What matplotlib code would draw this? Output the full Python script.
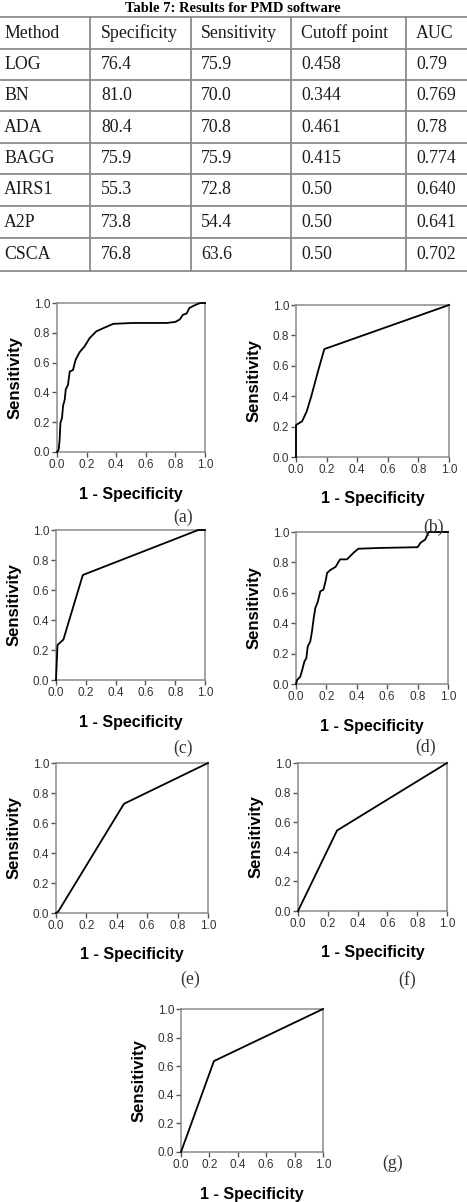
import matplotlib.pyplot as plt
from matplotlib.lines import Line2D

# ----- table data -----
methods = ['LOG', 'BN', 'ADA', 'BAGG', 'AIRS1', 'A2P', 'CSCA']
specificity = [76.4, 81.0, 80.4, 75.9, 55.3, 73.8, 76.8]
sensitivity = [75.9, 70.0, 70.8, 75.9, 72.8, 54.4, 63.6]
cutoff = ['0.458', '0.344', '0.461', '0.415', '0.50', '0.50', '0.50']
auc = ['0.79', '0.769', '0.78', '0.774', '0.640', '0.641', '0.702']
headers = ['Method', 'Specificity', 'Sensitivity', 'Cutoff point', 'AUC']

# ----- ROC curves (1 - specificity, sensitivity) -----
fpr_a = [0, 0.011, 0.018, 0.023, 0.034, 0.041, 0.052, 0.059, 0.074, 0.086, 0.108,
         0.126, 0.153, 0.187, 0.221, 0.266, 0.31, 0.38, 0.51, 0.74, 0.80, 0.83,
         0.85, 0.876, 0.894, 0.92, 0.966, 1.0]
tpr_a = [0, 0.016, 0.083, 0.195, 0.23, 0.31, 0.35, 0.42, 0.45, 0.54, 0.55,
         0.62, 0.67, 0.71, 0.765, 0.81, 0.83, 0.86, 0.866, 0.866, 0.873, 0.89,
         0.92, 0.93, 0.966, 0.98, 1.0, 1.0]
fpr_b = [0, 0, 0.04, 0.07, 0.10, 0.14, 0.185, 1.0]
tpr_b = [0, 0.21, 0.235, 0.30, 0.40, 0.55, 0.71, 1.0]
fpr_c = [0, 0.01, 0.05, 0.083, 0.18, 0.955, 1.0]
tpr_c = [0, 0.233, 0.27, 0.38, 0.70, 1.0, 1.0]
fpr_d = [0, 0.007, 0.028, 0.04, 0.055, 0.068, 0.077, 0.094, 0.105, 0.116, 0.127,
         0.143, 0.16, 0.18, 0.197, 0.204, 0.226, 0.26, 0.29, 0.335, 0.375, 0.41,
         0.55, 0.80, 0.82, 0.85, 0.873, 1.0]
tpr_d = [0, 0.026, 0.048, 0.09, 0.147, 0.17, 0.246, 0.28, 0.345, 0.43, 0.5,
         0.54, 0.61, 0.62, 0.686, 0.73, 0.75, 0.77, 0.82, 0.82, 0.86, 0.89,
         0.895, 0.90, 0.93, 0.95, 1.0, 1.0]
fpr_e = [0, 0.015, 0.447, 1.0]
tpr_e = [0, 0.01, 0.728, 1.0]
fpr_f = [0, 0.262, 1.0]
tpr_f = [0, 0.544, 1.0]
fpr_g = [0, 0.232, 1.0]
tpr_g = [0, 0.636, 1.0]

W, H = 467, 1202
fig = plt.figure(figsize=(W / 100, H / 100), dpi=100)

serif = ['Liberation Serif', 'DejaVu Serif']
sans = ['Liberation Sans', 'DejaVu Sans']
grid_col = '#8a8a8a'


def fx(px):
    return px / W


def fy(py):
    return 1 - py / H


# ----- table -----
fig.text(fx(233), fy(12), 'Table 7: Results for PMD software', ha='center',
         va='baseline', fontsize=10.5, fontweight='bold', family=serif)

row_lines = [17, 49, 80, 111, 143, 174, 206, 238, 271]
col_lines = [90, 191, 291, 406]
col_text = [4, 101, 201, 301, 416]

for y in row_lines:
    fig.add_artist(Line2D([0, 1], [fy(y), fy(y)], color=grid_col, lw=1.3))
for x in col_lines:
    fig.add_artist(Line2D([fx(x), fx(x)], [fy(row_lines[0]), fy(row_lines[-1])],
                          color=grid_col, lw=1.3))

rows = [headers] + [[m, '%.1f' % s, '%.1f' % n, c, a]
                    for m, s, n, c, a in zip(methods, specificity, sensitivity, cutoff, auc)]
for i, row in enumerate(rows):
    yc = (row_lines[i] + row_lines[i + 1]) / 2
    for x, txt in zip(col_text, row):
        fig.text(fx(x), fy(yc), txt, ha='left', va='center', fontsize=12.8,
                 family=serif, color='#1a1a1a')

# ----- ROC panels -----
# (left, right, top, bottom) in pixels, caption position
panels = [
    ((57, 205, 303, 452), fpr_a, tpr_a, '(a)', (183, 517)),
    ((296, 449, 305, 457), fpr_b, tpr_b, '(b)', (433, 527)),
    ((56, 205, 530, 680), fpr_c, tpr_c, '(c)', (183, 748)),
    ((296, 448, 532, 684), fpr_d, tpr_d, '(d)', (426, 747)),
    ((56, 208, 763, 913), fpr_e, tpr_e, '(e)', (190, 979)),
    ((298, 447, 763, 911), fpr_f, tpr_f, '(f)', (407, 980)),
    ((181, 323, 1009, 1152), fpr_g, tpr_g, '(g)', (393, 1163)),
]

ticks = [0.0, 0.2, 0.4, 0.6, 0.8, 1.0]
for (l, r, t, b), xs, ys, cap, (cx, cy) in panels:
    # caption drawn first so that the axes of the next row can cover it
    fig.text(fx(cx), fy(cy), cap, ha='center', va='center', fontsize=12.8,
             family=serif, color='#333333')
    ax = fig.add_axes([fx(l), fy(b), (r - l) / W, (b - t) / H])
    ax.plot(xs, ys, color='black', lw=1.3, clip_on=False, zorder=3)
    ax.set_xlim(0, 1)
    ax.set_ylim(0, 1)
    ax.set_xticks(ticks)
    ax.set_yticks(ticks)
    ax.set_xticklabels(['%.1f' % v for v in ticks])
    ax.set_yticklabels(['%.1f' % v for v in ticks])
    for sp in ax.spines.values():
        sp.set_color(grid_col)
        sp.set_linewidth(1.1)
    ax.tick_params(direction='out', length=3.5, width=1, color='#555555',
                   labelsize=8.5, labelcolor='#333333', pad=1.5)
    for lab in ax.get_xticklabels() + ax.get_yticklabels():
        lab.set_family(sans)
    ax.set_xlabel('1 - Specificity', fontsize=11.5, fontweight='bold', family=sans)
    ax.set_ylabel('Sensitivity', fontsize=12, fontweight='bold', family=sans,
                  va='center', ha='center')
    ax.xaxis.set_label_coords(0.5, -42 / (b - t))
    ax.xaxis.label.set_va('center')
    ax.yaxis.set_label_coords(-42 / (r - l), 0.5)

fig.savefig('out.png', dpi=100)
